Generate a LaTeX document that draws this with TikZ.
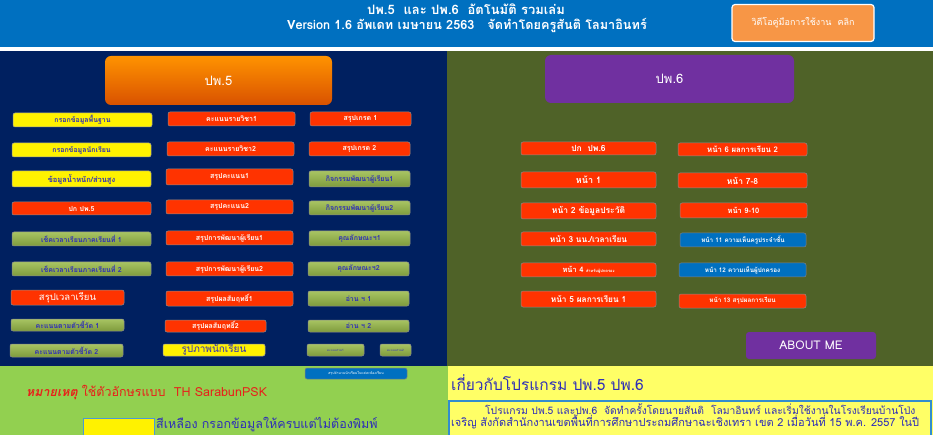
\documentclass[tikz,border=0pt]{standalone}
\usepackage{fontspec}
\setmainfont[Script=Thai]{Loma}
\usepackage{tikz}

\begin{document}
\begin{tikzpicture}[x=1pt, y=-1pt,
        btn/.style={rounded corners=2pt, inner sep=0pt, font=\bfseries\fontsize{7}{7}\selectfont, line width=0.5pt},
        redbtn/.style={btn, fill=btnred, draw=black!45, text=white},
        yelbtn/.style={btn, fill=yellow, draw=black!40, text=txtblue},
        grnbtn/.style={btn, top color=grntop, bottom color=grnbot, draw=black!45, text=txtblue},
        blubtn/.style={btn, fill=hdblue, draw=black!50, text=white},
        bigbtn/.style={rounded corners=6pt, inner sep=0pt, text=white, font=\fontsize{13}{15}\selectfont}]
        \definecolor{hdblue}{HTML}{0070C0}
        \definecolor{navy}{HTML}{002060}
        \definecolor{olive}{HTML}{4F6228}
        \definecolor{btnred}{HTML}{FF3300}
        \definecolor{grntop}{HTML}{A8C462}
        \definecolor{grnbot}{HTML}{7E9B3D}
        \definecolor{txtblue}{HTML}{2E2EB8}
        \definecolor{litgreen}{HTML}{92D050}
        \definecolor{paleyel}{HTML}{FFFF66}
        \definecolor{vidorange}{HTML}{F79646}
        \definecolor{purp}{HTML}{7030A0}
        \definecolor{notered}{HTML}{E8201A}
        \useasboundingbox (0,0) rectangle (933,435);

        % Background areas
        \fill[white] (0,0) rectangle (933,435);
        \fill[hdblue] (0,0) rectangle (933,47);
        \fill[navy] (0,51) rectangle (447,366);
        \fill[olive] (447,51) rectangle (933,366);
        \fill[litgreen] (0,366) rectangle (448,435);
        \fill[paleyel] (448,366) rectangle (933,435);

        % Header
        \node[text=white, font=\bfseries\fontsize{13}{14}\selectfont] (title1) at (466,9) {ปพ.5 \ และ ปพ.6 \ อัตโนมัติ รวมเล่ม};
        \node[text=white, font=\bfseries\fontsize{12.7}{14}\selectfont] (title2) at (467,25.5) {Version 1.6 อัพเดท เมษายน 2563 \ \ จัดทำโดยครูสันติ โลมาอินทร์};
        \node[rounded corners=3pt, fill=vidorange, draw=white, line width=1.2pt, minimum width=142pt, minimum height=37pt, text=white, font=\fontsize{9}{10}\selectfont] (video) at (803,23) {วิดีโอคู่มือการใช้งาน \ คลิก};

        % Main buttons
        \node[bigbtn, top color=orange!85!yellow, bottom color=orange!75!red!85!black, minimum width=227pt, minimum height=49pt] (pp5) at (218.5,80.5) {ปพ.5};
        \node[bigbtn, fill=purp, minimum width=249pt, minimum height=48pt] (pp6) at (669.5,79) {ปพ.6};

        % ปพ.5 first column
        \node[yelbtn, minimum width=139pt, minimum height=14pt] (basic) at (82.5,120) {กรอกข้อมูลพื้นฐาน};
        \node[yelbtn, minimum width=139pt, minimum height=14pt] (student) at (81.5,150) {กรอกข้อมูลนักเรียน};
        \node[yelbtn, minimum width=139pt, minimum height=16pt, font=\bfseries\fontsize{7.5}{8}\selectfont] (weight) at (81.5,179) {ข้อมูลน้ำหนัก/ส่วนสูง};
        \node[redbtn, minimum width=139pt, minimum height=13pt] (cover5) at (81.5,208.5) {ปก ปพ.5};
        \node[grnbtn, minimum width=139pt, minimum height=14pt] (time1) at (81.5,239) {เช็คเวลาเรียนภาคเรียนที่ 1};
        \node[grnbtn, minimum width=139pt, minimum height=14pt] (time2) at (81.5,269) {เช็คเวลาเรียนภาคเรียนที่ 2};
        \node[redbtn, minimum width=113pt, minimum height=15pt, font=\fontsize{9.5}{10}\selectfont] (timesum) at (67.5,297.5) {สรุปเวลาเรียน};
        \node[grnbtn, minimum width=113pt, minimum height=12pt] (ind1) at (67.5,325) {คะแนนตามตัวชี้วัด 1};
        \node[grnbtn, minimum width=113pt, minimum height=13pt] (ind2) at (66.5,350.5) {คะแนนตามตัวชี้วัด 2};

        % ปพ.5 second column
        \node[redbtn, minimum width=127pt, minimum height=14pt] (subj1) at (231.5,119) {คะแนนรายวิชา1};
        \node[redbtn, minimum width=127pt, minimum height=14pt] (subj2) at (230.5,149) {คะแนนรายวิชา2};
        \node[redbtn, minimum width=127pt, minimum height=16pt] (score1) at (229.5,177) {สรุปคะแนน1};
        \node[redbtn, minimum width=127pt, minimum height=14pt] (score2) at (229.5,207) {สรุปคะแนน2};
        \node[redbtn, minimum width=127pt, minimum height=14pt] (dev1) at (229.5,238) {สรุปการพัฒนาผู้เรียน1};
        \node[redbtn, minimum width=127pt, minimum height=14pt] (dev2) at (229.5,269) {สรุปการพัฒนาผู้เรียน2};
        \node[redbtn, minimum width=127pt, minimum height=15pt] (ach1) at (229.5,298.5) {สรุปผลสัมฤทธิ์1};
        \node[redbtn, minimum width=101pt, minimum height=12pt] (ach2) at (215.5,326) {สรุปผลสัมฤทธิ์2};
        \node[yelbtn, minimum width=102pt, minimum height=12pt, font=\fontsize{10}{11}\selectfont] (photo) at (214,350) {รูปภาพนักเรียน};

        % ปพ.5 third column
        \node[redbtn, minimum width=101pt, minimum height=14pt] (grade1) at (360.5,119) {สรุปเกรด 1};
        \node[redbtn, minimum width=101pt, minimum height=14pt] (grade2) at (359.5,149) {สรุปเกรด 2};
        \node[grnbtn, minimum width=101pt, minimum height=16pt] (act1) at (359.5,179) {กิจกรรมพัฒนาผู้เรียน1};
        \node[grnbtn, minimum width=101pt, minimum height=14pt] (act2) at (359.5,208) {กิจกรรมพัฒนาผู้เรียน2};
        \node[grnbtn, minimum width=101pt, minimum height=15pt] (char1) at (359.5,238.5) {คุณลักษณะฯ1};
        \node[grnbtn, minimum width=101pt, minimum height=14pt] (char2) at (358.5,269) {คุณลักษณะฯ2};
        \node[grnbtn, minimum width=101pt, minimum height=15pt] (read1) at (358.5,298.5) {อ่าน ฯ 1};
        \node[grnbtn, minimum width=101pt, minimum height=12pt] (read2) at (358.5,326) {อ่าน ฯ 2};
        \node[grnbtn, minimum width=57pt, minimum height=12pt, font=\fontsize{3}{4}\selectfont] (sum1) at (335.5,350) {คะแนนรวม1};
        \node[grnbtn, minimum width=31pt, minimum height=12pt, font=\fontsize{3}{4}\selectfont] (sum2) at (395.5,350) {คะแนนรวม2};
        \node[blubtn, minimum width=102pt, minimum height=11pt, font=\fontsize{3.5}{4}\selectfont] (count) at (356,373.5) {สรุปจำนวนนักเรียนในแต่ละห้องเรียน};

        % ปพ.6 first column
        \node[redbtn, minimum width=135pt, minimum height=13pt, font=\bfseries\fontsize{8.5}{9}\selectfont] (cover6) at (588.5,148.5) {ปก \ ปพ.6};
        \node[redbtn, minimum width=135pt, minimum height=16pt, font=\bfseries\fontsize{9}{10}\selectfont] (page1) at (588.5,180) {หน้า 1};
        \node[redbtn, minimum width=135pt, minimum height=16pt, font=\bfseries\fontsize{8.5}{9}\selectfont] (page2) at (588.5,211) {หน้า 2 ข้อมูลประวัติ};
        \node[redbtn, minimum width=135pt, minimum height=14pt, font=\bfseries\fontsize{8.3}{9}\selectfont] (page3) at (588.5,239) {หน้า 3 นน./เวลาเรียน};
        \node[redbtn, minimum width=135pt, minimum height=14pt, font=\bfseries\fontsize{7.5}{8}\selectfont] (page4) at (588.5,270) {หน้า 4 {\fontsize{4}{4}\selectfont สำหรับผู้ปกครอง}};
        \node[redbtn, minimum width=135pt, minimum height=16pt, font=\bfseries\fontsize{8.3}{9}\selectfont] (page5) at (588.5,299) {หน้า 5 ผลการเรียน 1};

        % ปพ.6 second column
        \node[redbtn, minimum width=129pt, minimum height=13pt, font=\bfseries\fontsize{7.8}{8}\selectfont] (page6) at (742.5,149.5) {หน้า 6 ผลการเรียน 2};
        \node[redbtn, minimum width=129pt, minimum height=15pt, font=\bfseries\fontsize{8.5}{9}\selectfont] (page78) at (742.5,180.5) {หน้า 7-8};
        \node[redbtn, minimum width=127pt, minimum height=15pt, font=\bfseries\fontsize{7.5}{8}\selectfont] (page910) at (743.5,210.5) {หน้า 9-10};
        \node[blubtn, minimum width=126pt, minimum height=14pt, font=\bfseries\fontsize{6.3}{7}\selectfont] (page11) at (743,240) {หน้า 11 ความเห็นครูประจำชั้น};
        \node[blubtn, minimum width=127pt, minimum height=14pt, font=\bfseries\fontsize{6.3}{7}\selectfont] (page12) at (742.5,270) {หน้า 12 ความเห็นผู้ปกครอง};
        \node[redbtn, minimum width=127pt, minimum height=14pt, font=\bfseries\fontsize{6.3}{7}\selectfont] (page13) at (742.5,301) {หน้า 13 สรุปผลการเรียน};
        \node[rounded corners=3pt, fill=purp, minimum width=130pt, minimum height=27pt, inner sep=0pt, text=white, font=\fontsize{12}{13}\selectfont] (about) at (811,345.5) {ABOUT ME};

        % Notes, bottom left
        \node[anchor=west, inner sep=0pt, text=notered, font=\fontsize{12.5}{14}\selectfont] (note) at (26,393) {{\bfseries\itshape หมายเหตุ} ใช้ตัวอักษรแบบ \ TH SarabunPSK};
        \draw[fill=yellow, draw=hdblue!70, line width=1pt] (83,418) rectangle (154,440);
        \node[anchor=west, inner sep=0pt, text=txtblue, font=\fontsize{12.5}{14}\selectfont] (yelnote) at (156,425) {สีเหลือง กรอกข้อมูลให้ครบแต่ไม่ต้องพิมพ์};

        % About the program, bottom right
        \node[anchor=west, inner sep=0pt, text=txtblue, font=\fontsize{15.5}{18}\selectfont] (abouthead) at (451,383) {เกี่ยวกับโปรแกรม ปพ.5 ปพ.6};
        \draw[draw=hdblue!80, line width=1.3pt] (449,401) rectangle (931,440);
        \node[anchor=west, inner sep=0pt, text=txtblue, font=\fontsize{10.3}{12}\selectfont] (line1) at (485,409) {โปรแกรม ปพ.5 และปพ.6 \ จัดทำครั้งโดยนายสันติ \ โลมาอินทร์ และเริ่มใช้งานในโรงเรียนบ้านโป่ง};
        \node[anchor=west, inner sep=0pt, text=txtblue, font=\fontsize{11}{12}\selectfont] (line2) at (451,422) {เจริญ สังกัดสำนักงานเขตพื้นที่การศึกษาประถมศึกษาฉะเชิงเทรา เขต 2 เมื่อวันที่ 15 พ.ค. 2557 ในปี};
\end{tikzpicture}
\end{document}
